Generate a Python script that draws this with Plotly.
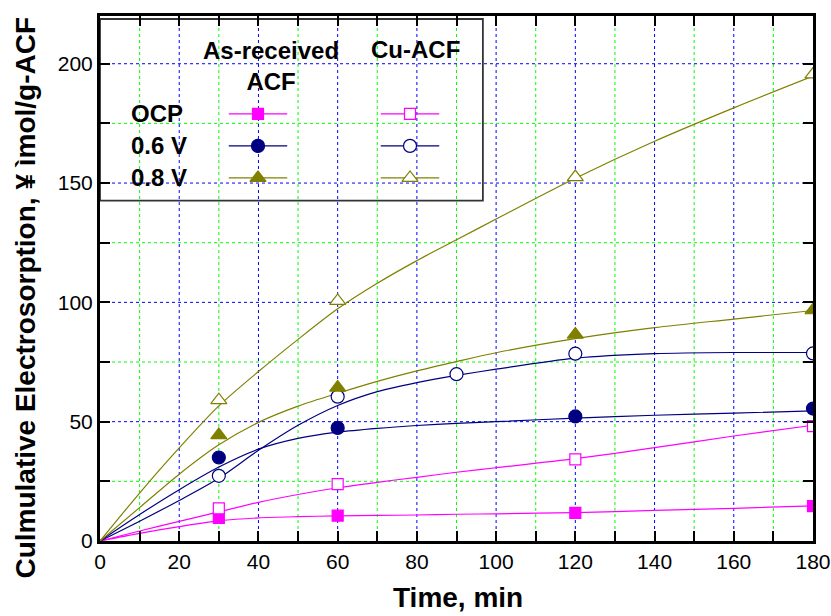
import plotly.graph_objects as go

# ---- measured points ----
time_pts = [30, 60, 120, 180]
time_pts_cu06 = [30, 60, 90, 120, 180]
ocp_asr = [9.7, 10.6, 11.8, 14.6]
ocp_cu = [13.7, 23.8, 34.2, 48.1]
v06_asr = [35.0, 47.4, 52.2, 55.5]
v06_cu = [27.3, 60.5, 69.9, 78.5, 78.6]
v08_asr = [44.4, 64.3, 86.5, 96.7]
v08_cu = [59.0, 100.6, 152.5, 195.5]

# ---- fitted curves ----
fit_x = [0, 10, 20, 30, 40, 50, 60, 70, 80, 90, 100, 120, 140, 160, 180]
ocp_asr_fit = [0, 3.2, 6.0, 8.4, 9.7, 10.2, 10.5, 10.7, 10.9, 11.2, 11.4, 11.9, 12.8, 13.7, 14.7]
ocp_cu_fit = [0, 4.2, 8.2, 12.2, 16.2, 19.5, 22.3, 24.6, 26.7, 28.8, 30.7, 34.5, 39.1, 44.0, 48.5]
v06_asr_fit = [0, 11.1, 21.5, 31.0, 38.5, 43.0, 45.6, 47.2, 48.4, 49.3, 50.0, 51.5, 52.7, 53.6, 54.5]
v06_cu_fit = [0, 8.3, 17.0, 26.3, 38.0, 48.5, 56.8, 62.6, 66.4, 69.4, 72.0, 76.6, 78.5, 79.0, 79.0]
v08_asr_fit = [0, 14.0, 28.0, 40.3, 49.7, 56.5, 61.9, 66.9, 71.3, 75.2, 78.9, 84.8, 89.4, 93.0, 96.6]
v08_cu_fit = [0, 20.1, 39.0, 56.6, 71.0, 84.5, 97.3, 108.0, 117.5, 126.2, 134.9, 152.0, 167.5, 181.5, 194.8]

x_tickvals = list(range(0, 181, 10))
x_ticktext = [str(v) if v % 20 == 0 else "" for v in x_tickvals]
y_tickvals = [0, 25, 50, 75, 100, 125, 150, 175, 200]
y_ticktext = [str(v) if v % 50 == 0 else "" for v in y_tickvals]

row_labels = ["OCP", "0.6 V", "0.8 V"]
col_labels = ["As-received<br>ACF", "Cu-ACF"]
x_title = "Time, min"
y_title = "Culmulative Electrosorption, ¥ ìmol/g-ACF"

MAG = "#FF00FF"
NAVY = "#000080"
OLIVE = "#808000"
FONT = "Liberation Sans, Arial, sans-serif"

series = [
    # (x, y, fit, color, symbol, filled)
    (time_pts, ocp_asr, ocp_asr_fit, MAG, "square", True),
    (time_pts, ocp_cu, ocp_cu_fit, MAG, "square", False),
    (time_pts, v06_asr, v06_asr_fit, NAVY, "circle", True),
    (time_pts_cu06, v06_cu, v06_cu_fit, NAVY, "circle", False),
    (time_pts, v08_asr, v08_asr_fit, OLIVE, "triangle-up", True),
    (time_pts, v08_cu, v08_cu_fit, OLIVE, "triangle-up", False),
]
msizes = {"square": 11, "circle": 13, "triangle-up": 14}


def mk(sym, col, filled):
    return dict(symbol=sym, size=msizes[sym], color=col if filled else "white",
                line=dict(color=col, width=1.2))


fig = go.Figure()
for xs, ys, fy, col, sym, filled in series:
    fig.add_trace(go.Scatter(x=fit_x, y=fy, mode="lines",
                             line=dict(color=col, width=1.2, shape="spline", smoothing=0.8),
                             showlegend=False, hoverinfo="skip", cliponaxis=True))
for xs, ys, fy, col, sym, filled in series:
    fig.add_trace(go.Scatter(x=xs, y=ys, mode="markers", showlegend=False, cliponaxis=True,
                             marker=mk(sym, col, filled)))

# ---- custom legend (plot-area fraction coordinates on hidden overlay axes) ----
leg_cols = [0.2216, 0.4348]
leg_rows = [0.8135, 0.7526, 0.6917]
half = 0.041
for r, yr in enumerate(leg_rows):
    for c, xc in enumerate(leg_cols):
        _, _, _, col, sym, filled = series[2 * r + c]
        fig.add_trace(go.Scatter(x=[xc - half, xc + half], y=[yr, yr], mode="lines", xaxis="x2", yaxis="y2",
                                 line=dict(color=col, width=1.2), showlegend=False, hoverinfo="skip"))
        fig.add_trace(go.Scatter(x=[xc], y=[yr], mode="markers", xaxis="x2", yaxis="y2", showlegend=False,
                                 hoverinfo="skip", marker=mk(sym, col, filled)))

bold24 = dict(family=FONT, size=24, color="black", weight="bold")
annotations = []
for lbl, yr in zip(row_labels, leg_rows):
    annotations.append(dict(text=lbl, x=0.040, y=yr, xref="paper", yref="paper", xanchor="left", yanchor="middle",
                            showarrow=False, font=bold24))
annotations.append(dict(text=col_labels[0], x=0.2400, y=0.905, xref="paper", yref="paper", xanchor="center",
                        yanchor="middle", showarrow=False, align="center", font=bold24))
annotations.append(dict(text=col_labels[1], x=0.4418, y=0.9353, xref="paper", yref="paper", xanchor="center",
                        yanchor="middle", showarrow=False, font=bold24))
annotations.append(dict(text=x_title, x=0.5028, y=-0.108, xref="paper", yref="paper", xanchor="center",
                        yanchor="middle", showarrow=False,
                        font=dict(family=FONT, size=28, color="black", weight="bold")))
annotations.append(dict(text=y_title, x=-0.104, y=0.4634, xref="paper", yref="paper", xanchor="center",
                        yanchor="middle", showarrow=False, textangle=-90,
                        font=dict(family=FONT, size=28, color="black", weight="bold")))

shapes = [dict(type="rect", xref="paper", yref="paper", x0=0, x1=0.537, y0=0.6485, y1=0.9943,
               fillcolor="white", line=dict(color="#333333", width=1.8), layer="between")]

GRID_MAJOR = "#0000FF"
GRID_MINOR = "#00FF00"
for v in x_tickvals[1:-1]:
    shapes.append(dict(type="line", xref="x", yref="paper", x0=v, x1=v, y0=0, y1=1, layer="below",
                       line=dict(color=GRID_MAJOR if v % 20 == 0 else GRID_MINOR, width=1, dash="dot")))
for v in y_tickvals[1:]:
    shapes.append(dict(type="line", xref="paper", yref="y", x0=0, x1=1, y0=v, y1=v, layer="below",
                       line=dict(color=GRID_MAJOR if v % 50 == 0 else GRID_MINOR, width=1, dash="dot")))

axis_common = dict(tickmode="array", ticks="inside", ticklen=10, tickwidth=2, tickcolor="black",
                   showline=True, linewidth=3, linecolor="black", mirror="allticks",
                   showgrid=False, zeroline=False, automargin=False,
                   tickfont=dict(size=21, family=FONT, color="black"))

fig.update_layout(
    width=831, height=616,
    margin=dict(l=100, r=18, t=16, b=75),
    paper_bgcolor="white", plot_bgcolor="white",
    font=dict(family=FONT, color="black"),
    annotations=annotations,
    shapes=shapes,
    xaxis=dict(range=[0, 180], tickvals=x_tickvals, ticktext=x_ticktext, **axis_common),
    yaxis=dict(range=[0, 220], tickvals=y_tickvals, ticktext=y_ticktext, **axis_common),
    xaxis2=dict(range=[0, 1], overlaying="x", visible=False, fixedrange=True),
    yaxis2=dict(range=[0, 1], overlaying="y", visible=False, fixedrange=True),
)

fig.write_html("out.html")
